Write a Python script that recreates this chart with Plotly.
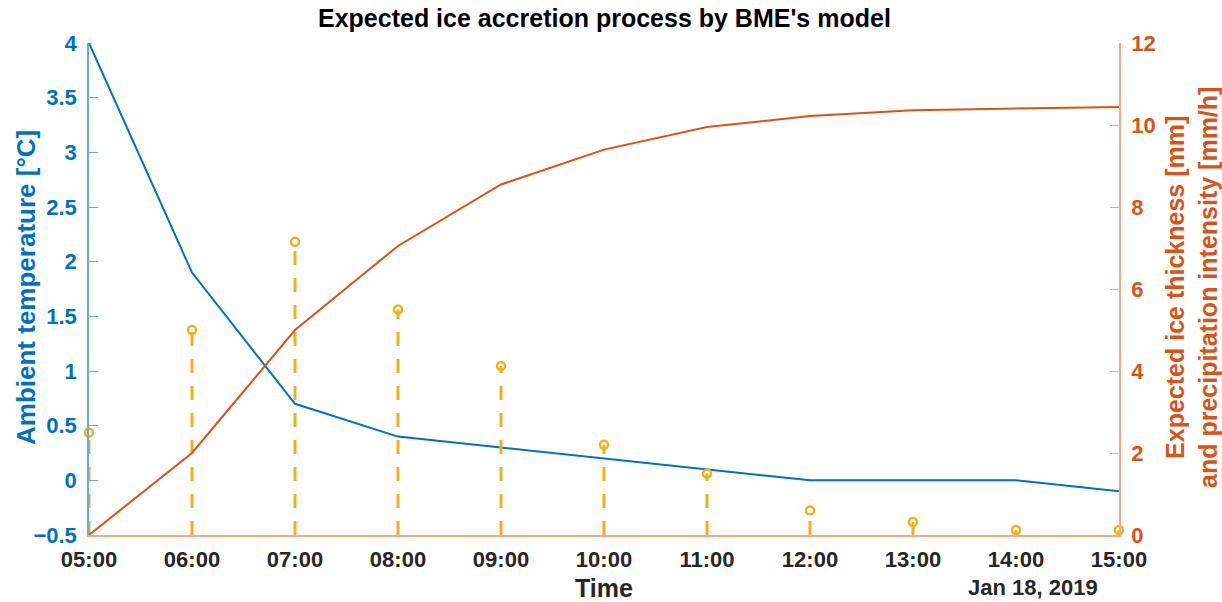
import plotly.graph_objects as go
import pandas as pd

times = pd.date_range("2019-01-18 05:00", "2019-01-18 15:00", freq="h")
temperature = [4.0, 1.9, 0.7, 0.4, 0.3, 0.2, 0.1, 0.0, 0.0, 0.0, -0.1]
ice_thickness = [0.0, 2.0, 5.0, 7.05, 8.55, 9.4, 9.95, 10.22, 10.36, 10.4, 10.44]
precipitation = [2.5, 5.0, 7.15, 5.5, 4.12, 2.2, 1.5, 0.6, 0.32, 0.12, 0.12]
tick_labels = [t.strftime("%H:%M") for t in times]

BLUE = "#0072BD"
ORANGE = "#D95319"
YELLOW = "#EDB120"
SALMON = "#F2A98A"
FONT = "Liberation Sans, Arial, sans-serif"

# plot-area geometry (pixels)
L, R, T, B = 89, 1119, 43, 535
W, H = 1222, 602
PW, PH = R - L, B - T

def px(x):
    return (x - L) / PW

def py(y):
    return (B - y) / PH

fig = go.Figure()

# stems (precipitation intensity), right axis
stem_x, stem_y = [], []
for t, v in zip(times, precipitation):
    stem_x += [t, t, None]
    stem_y += [0, v, None]
fig.add_trace(go.Scatter(x=stem_x, y=stem_y, mode="lines", yaxis="y2",
                         line=dict(color=YELLOW, width=3, dash="14px,13px"),
                         hoverinfo="skip", showlegend=False))
fig.add_trace(go.Scatter(x=times, y=precipitation, mode="markers", yaxis="y2",
                         marker=dict(symbol="circle-open", size=8, color=YELLOW,
                                     line=dict(width=2.5, color=YELLOW)),
                         showlegend=False, cliponaxis=False))

# ice thickness, right axis
fig.add_trace(go.Scatter(x=times, y=ice_thickness, mode="lines", yaxis="y2",
                         line=dict(color=ORANGE, width=2), showlegend=False))
# temperature, left axis
fig.add_trace(go.Scatter(x=times, y=temperature, mode="lines", yaxis="y",
                         line=dict(color=BLUE, width=2), showlegend=False))

fig.update_layout(
    width=W, height=H,
    margin=dict(l=L, r=W - R, t=T, b=H - B, autoexpand=False),
    paper_bgcolor="white", plot_bgcolor="white",
    font=dict(family=FONT),
    xaxis=dict(
        type="date", automargin=False,
        range=[times[0], times[-1]],
        tickvals=list(times), ticktext=[f"<b>{s}</b>" for s in tick_labels],
        tickfont=dict(size=22, color="#262626", family=FONT),
        showgrid=False, zeroline=False,
        showline=True, linecolor=SALMON, linewidth=2,
        ticks="", ticklabelstandoff=4,
    ),
    xaxis2=dict(
        type="date", overlaying="x", side="top", anchor="y", automargin=False,
        range=[times[0], times[-1]],
        tickvals=list(times), showticklabels=False,
        showgrid=False, zeroline=False,
        showline=True, linecolor="#B0B0B0", linewidth=1.5,
        ticks="inside", ticklen=9, tickcolor="#444444", tickwidth=1,
    ),
    yaxis=dict(
        range=[-0.5, 4], dtick=0.5, tickformat="~g", automargin=False,
        tickfont=dict(size=22, color=BLUE, family=FONT),
        showgrid=False, zeroline=False,
        showline=True, linecolor="#6AAAD9", linewidth=1.5,
        ticks="inside", ticklen=9, tickcolor="#6AAAD9",
        ticklabelstandoff=6,
        tickprefix="<b>", ticksuffix="</b>",
    ),
    yaxis2=dict(
        range=[0, 12], dtick=2, overlaying="y", side="right", anchor="x", automargin=False,
        tickfont=dict(size=22, color=ORANGE, family=FONT),
        showgrid=False, zeroline=False,
        showline=True, linecolor=SALMON, linewidth=1.5,
        ticks="inside", ticklen=9, tickcolor=SALMON,
        ticklabelstandoff=6,
        tickprefix="<b>", ticksuffix="</b>",
    ),
    annotations=[
        dict(text="<b>Expected ice accretion process by BME's model</b>",
             xref="paper", yref="paper", x=0.5, y=py(18),
             xanchor="center", yanchor="middle", showarrow=False,
             font=dict(size=25, color="#000000", family=FONT)),
        dict(text="<b>Time</b>", xref="paper", yref="paper", x=0.5, y=py(588),
             xanchor="center", yanchor="middle", showarrow=False,
             font=dict(size=25, color="#262626", family=FONT)),
        dict(text="<b>Jan 18, 2019</b>", xref="paper", yref="paper",
             x=px(1100), y=py(587), xanchor="right", yanchor="middle", showarrow=False,
             font=dict(size=22, color="#262626", family=FONT)),
        dict(text="<b>Ambient temperature [°C]</b>", xref="paper", yref="paper",
             x=px(26), y=py(288), xanchor="center", yanchor="middle", textangle=-90,
             showarrow=False, font=dict(size=26, color=BLUE, family=FONT)),
        dict(text="<b>Expected ice thickness [mm]<br>and precipitation intensity [mm/h]</b>",
             xref="paper", yref="paper", x=px(1191), y=py(288),
             xanchor="center", yanchor="middle", textangle=-90,
             showarrow=False, font=dict(size=25, color=ORANGE, family=FONT)),
    ],
)

fig.write_html("out.html", config={"displayModeBar": False},
               post_script="document.body.style.margin='0';document.body.style.padding='0';")
